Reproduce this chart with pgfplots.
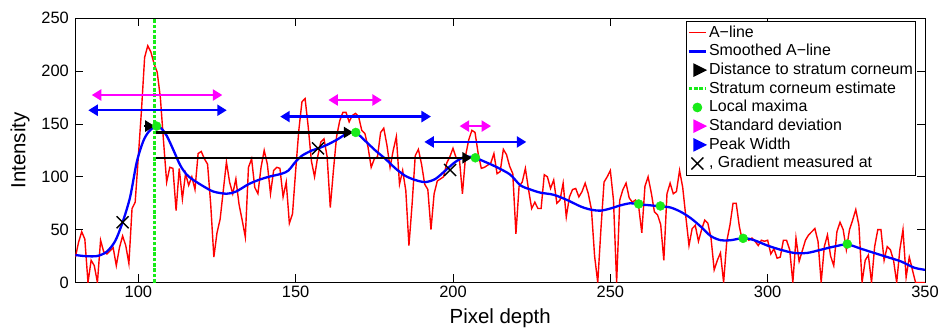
\documentclass[border=0pt]{standalone}
\usepackage{fontspec}
\setmainfont{Liberation Sans}
\usepackage{pgfplots}
\pgfplotsset{compat=1.18}
\usetikzlibrary{arrows.meta}
\definecolor{mgreen}{rgb}{0.1,0.92,0.1}
\definecolor{mmag}{rgb}{1,0,1}
\definecolor{mblue}{rgb}{0,0,1}
\definecolor{mred}{rgb}{1,0,0}
\begin{document}
\begin{tikzpicture}
\begin{axis}[
  scale only axis, width=849.6bp, height=264.2bp,
  xmin=80, xmax=350, ymin=0, ymax=250,
  xtick={100,150,...,350}, ytick={0,50,...,250},
  tick align=inside, major tick length=8bp,
  tick style={black, line width=0.7bp},
  axis line style={black, line width=0.8bp},
  /pgf/number format/assume math mode=true,
  ticklabel style={font=\fontsize{16.5}{17}\selectfont},
  yticklabel style={xshift=-3bp},
  xlabel={Pixel depth}, ylabel={Intensity},
  every axis x label/.style={at={(axis description cs:0.5,-0.136)},anchor=center,font=\fontsize{20.5}{22}\selectfont},
  every axis y label/.style={at={(axis description cs:-0.0652,0.5)},rotate=90,anchor=center,font=\fontsize{20.5}{22}\selectfont},
  legend cell align=left,
  legend style={at={(0.7187,0.991)}, anchor=north west, draw=black, line width=0.7bp,
    inner xsep=1bp, inner ysep=2.3bp,
    font=\fontsize{16}{16}\selectfont,
    nodes={inner sep=1.7bp, text height=12bp, text depth=3.3bp},
    row sep=0pt},
]
% A-line
\addplot[mred, line width=1.4bp] table {
x y
80 24
81 38
82 48
83 41
84 0
85 21
86 16
87 0
88 40
89 29
90 27
91 30
92 33
93 16
94 33
95 44
96 35
97 18
98 70
99 76
100 119
101 163
102 213
103 224
104 218
105 207
106 199
107 175
108 134
109 95
110 109
111 108
112 68
113 108
114 79
115 103
116 92
117 100
118 88
119 122
120 124
121 117
122 112
123 74
124 24
125 47
126 60
127 87
128 114
129 95
130 84
131 98
132 74
133 59
134 43
135 109
136 117
137 90
138 84
139 109
140 125
141 112
142 84
143 106
144 109
145 108
146 81
147 95
148 56
149 65
150 106
151 144
152 171
153 174
154 147
155 115
156 100
157 119
158 133
159 136
160 119
161 71
162 106
163 138
164 153
165 161
166 161
167 152
168 158
169 160
170 157
171 144
172 141
173 128
174 109
175 117
176 119
177 142
178 146
179 130
180 109
181 125
182 138
183 93
184 106
185 87
186 35
187 74
188 120
189 126
190 112
191 93
192 88
193 50
194 84
195 96
196 98
197 100
198 113
199 119
200 127
201 118
202 118
203 84
204 120
205 135
206 144
207 142
208 122
209 108
210 109
211 111
212 113
213 122
214 103
215 105
216 126
217 121
218 110
219 103
220 46
221 91
222 95
223 108
224 88
225 70
226 76
227 70
228 70
229 102
230 100
231 89
232 97
233 75
234 78
235 94
236 62
237 81
238 88
239 89
240 81
241 86
242 94
243 84
244 69
245 25
246 0
247 50
248 95
249 100
250 106
251 78
252 0
253 78
254 88
255 94
256 80
257 76
258 78
259 72
260 47
261 91
262 100
263 85
264 67
265 64
266 55
267 21
268 84
269 94
270 84
271 86
272 106
273 90
274 62
275 35
276 51
277 54
278 39
279 50
280 59
281 56
282 42
283 12
284 21
285 28
286 0
287 39
288 54
289 75
290 75
291 53
292 39
293 43
294 40
295 42
296 39
297 35
298 40
299 39
300 40
301 27
302 32
303 23
304 24
305 40
306 40
307 31
308 0
309 42
310 20
311 30
312 40
313 45
314 48
315 51
316 39
317 0
318 34
319 45
320 25
321 16
322 48
323 57
324 50
325 31
326 50
327 59
328 69
329 54
330 0
331 21
332 26
333 0
334 34
335 50
336 50
337 21
338 34
339 31
340 21
341 0
342 31
343 50
344 5
345 24
346 12
347 0
348 0
349 0
350 0
};
\addlegendentry{A−line}
% Smoothed
\addplot[mblue, line width=2.3bp, smooth, tension=0.5] table {
x y
80 26
83 25
86.8 25
89.9 29
92.6 39
95 57
97.4 81
99.5 114
101.6 134
103.4 143
105.6 148
107.2 146
109 139
111.2 125
113.3 111
115.4 102
117.5 97
120.7 91
123.9 86
128 84
131 86
135 93
138.2 97
141.4 100
145.6 103
147.7 106
149.9 114
152 120
155.2 125
157.3 127
160.5 131
163.6 136
166.3 141
169 142
172.1 134
175.3 125
178.5 117
181.7 108
184.8 101
188 97
191.2 95
194.4 98
197.6 106
200.7 114
203.9 119
207 118
210.3 114
214 109
218.2 102
221.4 92
224.6 88
227.8 85
232 83
236.3 78
240.5 72
243.7 69
246.9 68
250 70
253.2 73
256.4 75
259 74
262.8 73
265.9 72
269.1 71
272.3 67
275.5 61
278.7 53
281.9 44
285.1 40
288.2 40
292.3 42
295.7 40
299.9 35
304.1 31
308.4 28
312.6 28
316.9 31
321.1 34
325.3 36
329.6 32
333.8 28
338.1 24
342.3 20
346.6 14
350 12
};
\addlegendentry{Smoothed A−line}
% Distance arrows
\addplot[color=black, line width=2.3bp, -{Triangle[length=9.5bp,width=11bp]},
  legend image code/.code={\fill[black] (0.2cm,-5bp) -- (0.2cm,5bp) -- (0.2cm+10bp,0bp) -- cycle;}]
  coordinates {(101.9,148) (105.2,148)};
\addlegendentry{Distance to stratum corneum}
\addplot[color=black, line width=2.3bp, -{Triangle[length=9.5bp,width=11bp]}, forget plot]
  coordinates {(105,142) (168.3,142)};
\addplot[color=black, line width=2.3bp, -{Triangle[length=9.5bp,width=11bp]}, forget plot]
  coordinates {(105,118) (206,118)};
% Stratum corneum estimate
\addplot[color=mgreen, line width=3bp, dash pattern=on 3.5bp off 1.8bp]
  coordinates {(105,0) (105,250)};
\addlegendentry{Stratum corneum estimate}
% Local maxima
\addplot[only marks, mark=*, mark size=4.5bp, color=mgreen, mark options={draw=mgreen, fill=mgreen}]
  coordinates {(105.8,148) (169.1,142) (207.1,118) (259,74.3) (265.9,72.4) (292.2,41.8) (325.3,36.4)};
\addlegendentry{Local maxima}
% Standard deviation
\addplot[color=mmag, line width=2.3bp, {Triangle[length=9.5bp,width=11bp]}-{Triangle[length=9.5bp,width=11bp]},
  legend image code/.code={\fill[mmag] (0.2cm,-5bp) -- (0.2cm,5bp) -- (0.2cm+10bp,0bp) -- cycle;}]
  coordinates {(85.2,177.4) (126.7,177.4)};
\addlegendentry{Standard deviation}
\addplot[color=mmag, line width=2.3bp, {Triangle[length=9.5bp,width=11bp]}-{Triangle[length=9.5bp,width=11bp]}, forget plot]
  coordinates {(160.4,172.7) (177.4,172.7)};
\addplot[color=mmag, line width=2.3bp, {Triangle[length=9.5bp,width=11bp]}-{Triangle[length=9.5bp,width=11bp]}, forget plot]
  coordinates {(202.1,148) (212.1,148)};
% Peak width
\addplot[color=mblue, line width=2.3bp, {Triangle[length=9.5bp,width=11bp]}-{Triangle[length=9.5bp,width=11bp]},
  legend image code/.code={\fill[mblue] (0.2cm,-5bp) -- (0.2cm,5bp) -- (0.2cm+10bp,0bp) -- cycle;}]
  coordinates {(84.1,163) (128.1,163)};
\addlegendentry{Peak Width}
\addplot[color=mblue, line width=2.3bp, {Triangle[length=9.5bp,width=11bp]}-{Triangle[length=9.5bp,width=11bp]}, forget plot]
  coordinates {(145.1,157) (193,157)};
\addplot[color=mblue, line width=2.3bp, {Triangle[length=9.5bp,width=11bp]}-{Triangle[length=9.5bp,width=11bp]}, forget plot]
  coordinates {(190.9,133) (223.3,133)};
% Gradient points
\addplot[only marks, mark=x, mark size=8.5bp, color=black, mark options={line width=1.4bp}]
  coordinates {(95,57) (157.1,127) (199.1,106.5)};
\addlegendentry{, Gradient measured at}
\end{axis}
\pgfresetboundingbox
\path[use as bounding box] (current axis.south west) ++(-75.4bp,-47.5bp) rectangle ++(940bp,330bp);
\end{tikzpicture}
\end{document}
